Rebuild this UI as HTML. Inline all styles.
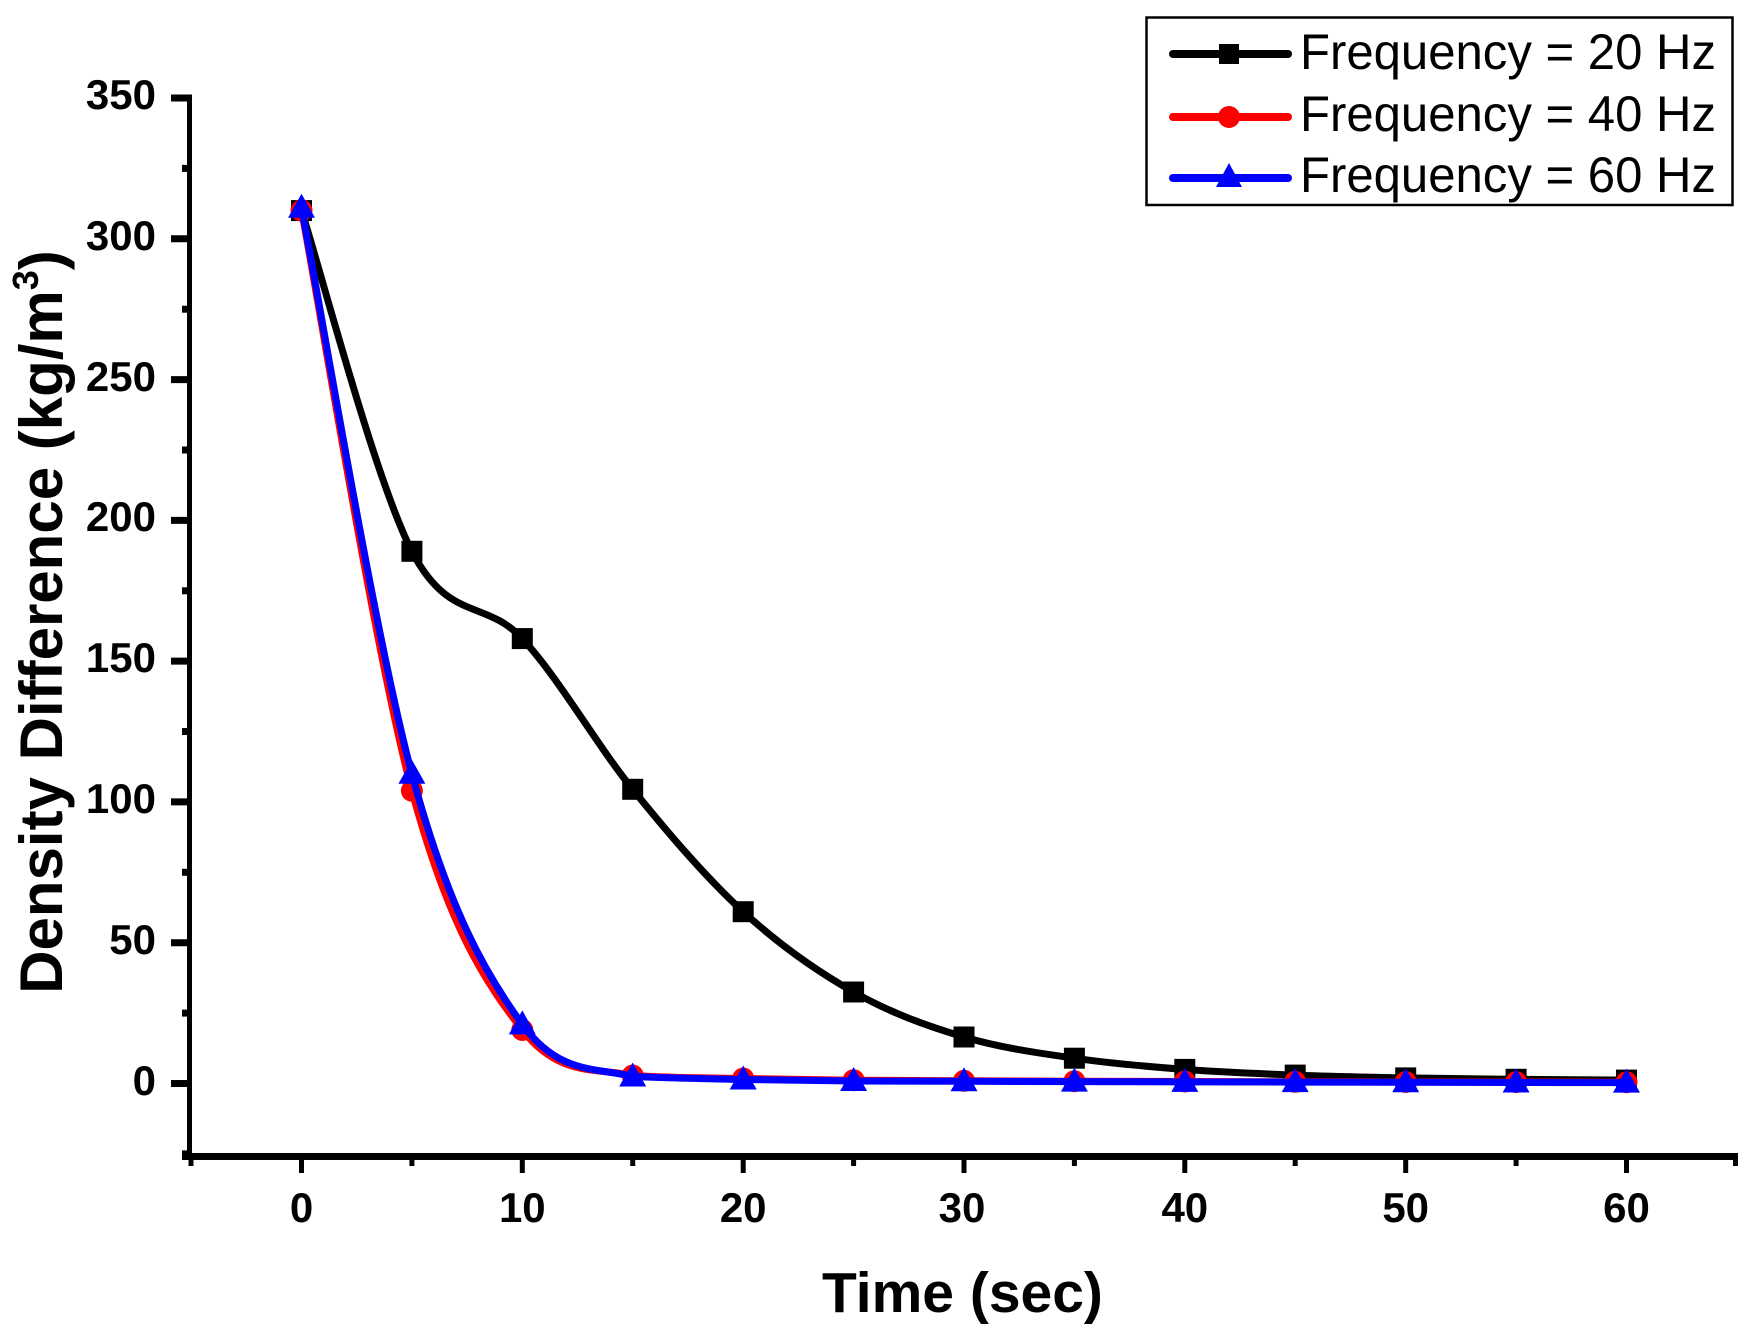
<!DOCTYPE html>
<html>
<head>
<meta charset="utf-8">
<style>
html,body{margin:0;padding:0;background:#fff;}
svg{display:block;}
text{font-family:"Liberation Sans",Arial,sans-serif;}
</style>
</head>
<body>
<svg width="1754" height="1338" viewBox="0 0 1754 1338" xmlns="http://www.w3.org/2000/svg">
<rect x="0" y="0" width="1754" height="1338" fill="#fff"/>

<!-- Axes -->
<g stroke="#000" fill="none">
  <line x1="189.5" y1="94.5" x2="189.5" y2="1160" stroke-width="5"/>
  <line x1="182" y1="1156.5" x2="1738" y2="1156.5" stroke-width="7"/>
  <g stroke-width="7">
    <line x1="171" y1="98" x2="189.5" y2="98"/>
    <line x1="171" y1="238.8" x2="189.5" y2="238.8"/>
    <line x1="171" y1="379.6" x2="189.5" y2="379.6"/>
    <line x1="171" y1="520.4" x2="189.5" y2="520.4"/>
    <line x1="171" y1="661.1" x2="189.5" y2="661.1"/>
    <line x1="171" y1="801.9" x2="189.5" y2="801.9"/>
    <line x1="171" y1="942.7" x2="189.5" y2="942.7"/>
    <line x1="171" y1="1083.5" x2="189.5" y2="1083.5"/>
  </g>
  <g stroke-width="7">
    <line x1="182" y1="168.4" x2="189.5" y2="168.4"/>
    <line x1="182" y1="309.2" x2="189.5" y2="309.2"/>
    <line x1="182" y1="450" x2="189.5" y2="450"/>
    <line x1="182" y1="590.8" x2="189.5" y2="590.8"/>
    <line x1="182" y1="731.5" x2="189.5" y2="731.5"/>
    <line x1="182" y1="872.3" x2="189.5" y2="872.3"/>
    <line x1="182" y1="1013.1" x2="189.5" y2="1013.1"/>
    <line x1="182" y1="1153.9" x2="189.5" y2="1153.9"/>
  </g>
  <g stroke-width="5">
    <line x1="301.5" y1="1156" x2="301.5" y2="1173"/>
    <line x1="522.3" y1="1156" x2="522.3" y2="1173"/>
    <line x1="743.2" y1="1156" x2="743.2" y2="1173"/>
    <line x1="964" y1="1156" x2="964" y2="1173"/>
    <line x1="1184.8" y1="1156" x2="1184.8" y2="1173"/>
    <line x1="1405.7" y1="1156" x2="1405.7" y2="1173"/>
    <line x1="1626.5" y1="1156" x2="1626.5" y2="1173"/>
  </g>
  <g stroke-width="5">
    <line x1="191" y1="1156" x2="191" y2="1166"/>
    <line x1="411.9" y1="1156" x2="411.9" y2="1166"/>
    <line x1="632.7" y1="1156" x2="632.7" y2="1166"/>
    <line x1="853.6" y1="1156" x2="853.6" y2="1166"/>
    <line x1="1074.4" y1="1156" x2="1074.4" y2="1166"/>
    <line x1="1295.2" y1="1156" x2="1295.2" y2="1166"/>
    <line x1="1516.1" y1="1156" x2="1516.1" y2="1166"/>
    <line x1="1735.5" y1="1156" x2="1735.5" y2="1166"/>
  </g>
</g>

<!-- Y tick labels -->
<g font-size="42" font-weight="bold" text-anchor="end" fill="#000">
  <text x="156" y="109">350</text>
  <text x="156" y="250">300</text>
  <text x="156" y="391">250</text>
  <text x="156" y="531">200</text>
  <text x="156" y="672">150</text>
  <text x="156" y="813">100</text>
  <text x="156" y="954">50</text>
  <text x="156" y="1095">0</text>
</g>

<!-- X tick labels -->
<g font-size="42" font-weight="bold" text-anchor="middle" fill="#000">
  <text x="301.5" y="1222">0</text>
  <text x="522.3" y="1222">10</text>
  <text x="743.2" y="1222">20</text>
  <text x="962" y="1222">30</text>
  <text x="1184.8" y="1222">40</text>
  <text x="1405.7" y="1222">50</text>
  <text x="1626.5" y="1222">60</text>
</g>

<!-- Axis titles -->
<text x="822" y="1312" font-size="57" font-weight="bold" fill="#000">Time (sec)</text>
<text transform="translate(62,622) rotate(-90)" x="0" y="0" font-size="60" font-weight="bold" text-anchor="middle" fill="#000">Density Difference (kg/m<tspan font-size="36" dy="-24">3</tspan><tspan dy="24">)</tspan></text>

<!-- Black series: 20 Hz -->
<path fill="none" stroke="#000" stroke-width="7" stroke-linejoin="round" d="M301.5,210.6 C319.9,267.4 375.1,480.0 411.9,551.3 C448.7,622.6 485.5,598.9 522.3,638.6 C559.1,678.3 595.9,743.8 632.7,789.3 C669.5,834.8 706.4,877.9 743.2,911.7 C780.0,945.5 816.8,971.1 853.6,992.0 C890.4,1012.9 927.2,1026.0 964.0,1037.0 C1000.8,1048.0 1037.6,1052.8 1074.4,1058.2 C1111.2,1063.6 1148.0,1066.6 1184.8,1069.4 C1221.6,1072.2 1258.4,1073.7 1295.2,1075.1 C1332.0,1076.5 1368.9,1077.2 1405.7,1077.9 C1442.5,1078.6 1479.3,1078.9 1516.1,1079.3 C1552.9,1079.7 1608.1,1080.0 1626.5,1080.1"/>
<g fill="#000">
  <rect x="291" y="200.1" width="21" height="21"/>
  <rect x="401.4" y="540.8" width="21" height="21"/>
  <rect x="511.8" y="628.1" width="21" height="21"/>
  <rect x="622.2" y="778.8" width="21" height="21"/>
  <rect x="732.7" y="901.2" width="21" height="21"/>
  <rect x="843.1" y="981.5" width="21" height="21"/>
  <rect x="953.5" y="1026.5" width="21" height="21"/>
  <rect x="1063.9" y="1047.7" width="21" height="21"/>
  <rect x="1174.3" y="1058.9" width="21" height="21"/>
  <rect x="1284.7" y="1064.6" width="21" height="21"/>
  <rect x="1395.2" y="1067.4" width="21" height="21"/>
  <rect x="1505.6" y="1068.8" width="21" height="21"/>
  <rect x="1616" y="1069.6" width="21" height="21"/>
</g>

<!-- Red series: 40 Hz -->
<path fill="none" stroke="#f00" stroke-width="7" stroke-linejoin="round" d="M301.5,210.6 C319.9,307.3 375.1,654.1 411.9,790.7 C448.7,927.3 485.5,982.5 522.3,1030.0 C559.1,1077.5 595.9,1067.4 632.7,1075.5 C669.5,1078 706.4,1077.7 743.2,1078.5 C780.0,1079.3 816.8,1079.8 853.6,1080.2 L964.0,1080.8 L1074.4,1081.2 L1184.8,1081.5 L1295.2,1081.8 L1405.7,1082.0 L1516.1,1082.1 L1626.5,1082.2"/>
<g fill="#f00">
  <circle cx="301.5" cy="210.6" r="11"/>
  <circle cx="411.9" cy="790.7" r="11"/>
  <circle cx="522.3" cy="1030.0" r="11"/>
  <circle cx="632.7" cy="1075.5" r="11"/>
  <circle cx="743.2" cy="1078.5" r="11"/>
  <circle cx="853.6" cy="1080.2" r="11"/>
  <circle cx="964.0" cy="1080.8" r="11"/>
  <circle cx="1074.4" cy="1081.2" r="11"/>
  <circle cx="1184.8" cy="1081.5" r="11"/>
  <circle cx="1295.2" cy="1081.8" r="11"/>
  <circle cx="1405.7" cy="1082.0" r="11"/>
  <circle cx="1516.1" cy="1082.1" r="11"/>
  <circle cx="1626.5" cy="1082.2" r="11"/>
</g>

<!-- Blue series: 60 Hz -->
<path fill="none" stroke="#00f" stroke-width="7" stroke-linejoin="round" d="M301.5,207.8 C319.9,302.1 375.1,637.7 411.9,773.8 C448.7,909.9 485.5,974.0 522.3,1024.4 C559.1,1074.9 595.9,1067.3 632.7,1076.5 C669.5,1078 706.4,1078.75 743.2,1079.5 C780.0,1080.25 816.8,1080.7 853.6,1081.0 L964.0,1081.3 L1074.4,1081.6 L1184.8,1081.9 L1295.2,1082.1 L1405.7,1082.3 L1516.1,1082.5 L1626.5,1082.6"/>
<g fill="#00f">
  <polygon points="301.5,193.8 288,217.8 315,217.8"/>
  <polygon points="411.9,759.8 398.4,783.8 425.4,783.8"/>
  <polygon points="522.3,1010.4 508.8,1034.4 535.8,1034.4"/>
  <polygon points="632.7,1062.5 619.2,1086.5 646.2,1086.5"/>
  <polygon points="743.2,1065.5 729.7,1089.5 756.7,1089.5"/>
  <polygon points="853.6,1067 840.1,1091 867.1,1091"/>
  <polygon points="964.0,1067.3 950.5,1091.3 977.5,1091.3"/>
  <polygon points="1074.4,1067.6 1060.9,1091.6 1087.9,1091.6"/>
  <polygon points="1184.8,1067.9 1171.3,1091.9 1198.3,1091.9"/>
  <polygon points="1295.2,1068.1 1281.7,1092.1 1308.7,1092.1"/>
  <polygon points="1405.7,1068.3 1392.2,1092.3 1419.2,1092.3"/>
  <polygon points="1516.1,1068.5 1502.6,1092.5 1529.6,1092.5"/>
  <polygon points="1626.5,1068.6 1613,1092.6 1640,1092.6"/>
</g>

<!-- Legend -->
<rect x="1146.5" y="17.5" width="586" height="187.5" fill="#fff" stroke="#000" stroke-width="2.5"/>
<line x1="1173" y1="54" x2="1288" y2="54" stroke="#000" stroke-width="8" stroke-linecap="round"/>
<rect x="1219" y="44" width="20" height="20" fill="#000"/>
<line x1="1173" y1="117" x2="1288" y2="117" stroke="#f00" stroke-width="8" stroke-linecap="round"/>
<circle cx="1229" cy="117" r="11" fill="#f00"/>
<line x1="1173" y1="178" x2="1288" y2="178" stroke="#00f" stroke-width="8" stroke-linecap="round"/>
<polygon points="1229,163 1216,187 1242,187" fill="#00f"/>
<g font-size="50" fill="#000">
  <text x="1300" y="69" textLength="416" lengthAdjust="spacingAndGlyphs">Frequency = 20 Hz</text>
  <text x="1300" y="131" textLength="416" lengthAdjust="spacingAndGlyphs">Frequency = 40 Hz</text>
  <text x="1300" y="192" textLength="416" lengthAdjust="spacingAndGlyphs">Frequency = 60 Hz</text>
</g>
</svg>
</body>
</html>
